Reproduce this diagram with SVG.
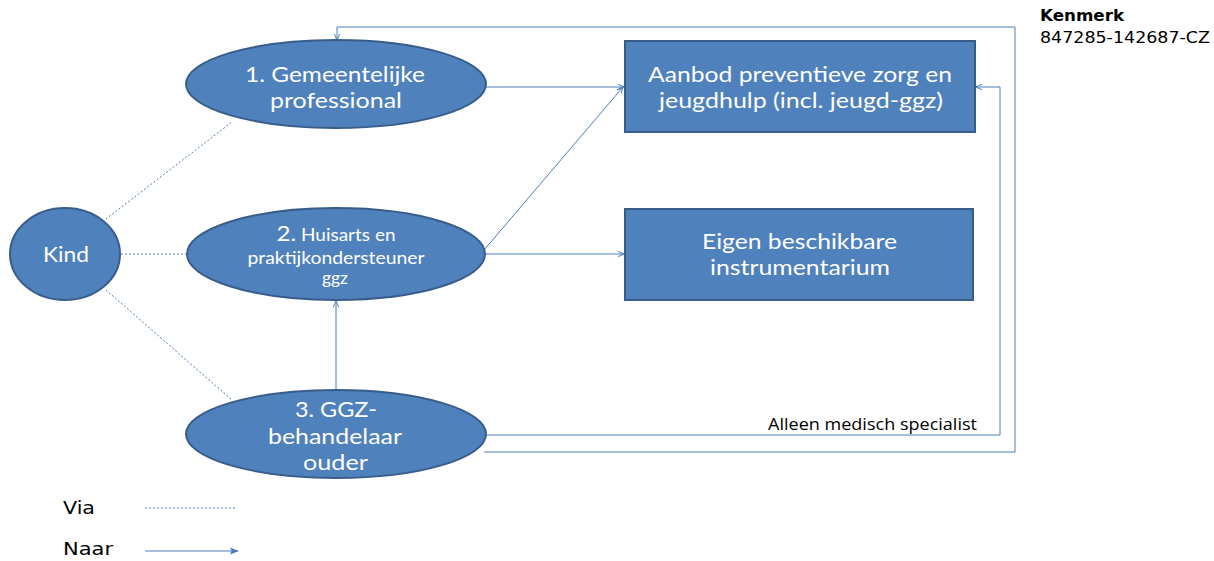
<svg xmlns="http://www.w3.org/2000/svg" width="1214" height="561" viewBox="0 0 1214 561">
<defs>
<marker id="ah" viewBox="0 0 10 10" refX="9" refY="5" markerWidth="7" markerHeight="7" orient="auto" markerUnits="userSpaceOnUse">
<path d="M0,1 L9,5 L0,9" fill="none" stroke="#4A7EBB" stroke-width="1.4"/>
</marker>
<marker id="ahf" viewBox="0 0 10 10" refX="9" refY="5" markerWidth="9" markerHeight="9" orient="auto" markerUnits="userSpaceOnUse">
<path d="M0,1 L10,5 L0,9 L2,5 Z" fill="#4A7EBB"/>
</marker>
</defs>
<style>
.node{fill:#4F81BD;stroke:#385D8A;stroke-width:2}
.t{font-family:Lato,"Open Sans","Liberation Sans",sans-serif;fill:#FFFFFF;text-anchor:middle}
.big{font-size:21px}
.sm{font-size:16.5px}
.ln{fill:none;stroke:#4A7EBB;stroke-width:1}
.dot{fill:none;stroke:#4A7EBB;stroke-width:1;stroke-dasharray:2,2}
.k{font-family:"DejaVu Sans",Verdana,sans-serif;font-size:15px;fill:#000}
.leg{font-family:"DejaVu Sans",Verdana,sans-serif;font-size:17.5px;fill:#000}
.lab{font-family:"Open Sans",Lato,"Liberation Sans",sans-serif;font-size:16.5px;fill:#000}
</style>
<rect width="1214" height="561" fill="#FFFFFF"/>
<g id="connectors">
<line class="dot" x1="106" y1="219" x2="232" y2="122"/>
<line class="dot" x1="121" y1="254" x2="187" y2="254"/>
<line class="dot" x1="106" y1="290" x2="232" y2="400"/>
<line class="ln" x1="486" y1="87" x2="624" y2="87" marker-end="url(#ah)"/>
<line class="ln" x1="484" y1="250" x2="623" y2="87" marker-end="url(#ah)"/>
<line class="ln" x1="486" y1="254" x2="624" y2="254" marker-end="url(#ah)"/>
<line class="ln" x1="336" y1="390" x2="336" y2="301" marker-end="url(#ah)"/>
<polyline class="ln" points="486,435 1000,435 1000,87 976,87" marker-end="url(#ah)"/>
<polyline class="ln" points="484,452 1015,452 1015,27 337,27 337,40" marker-end="url(#ah)"/>
<text class="lab" x="768" y="430" textLength="209" lengthAdjust="spacingAndGlyphs">Alleen medisch specialist</text>
</g>
<g id="kind">
<ellipse class="node" cx="65" cy="254" rx="55" ry="46"/>
<text class="t big" x="66" y="262" textLength="46" lengthAdjust="spacingAndGlyphs">Kind</text>
</g>
<g id="gemeentelijke">
<ellipse class="node" cx="336" cy="84" rx="150" ry="44"/>
<text class="t big" x="335" y="82" textLength="180" lengthAdjust="spacingAndGlyphs">1. Gemeentelijke</text>
<text class="t big" x="336" y="108" textLength="132" lengthAdjust="spacingAndGlyphs">professional</text>
</g>
<g id="huisarts">
<ellipse class="node" cx="336" cy="254" rx="149" ry="46"/>
<text class="t sm" x="336" y="241" textLength="119" lengthAdjust="spacingAndGlyphs"><tspan font-size="21">2.</tspan> Huisarts en</text>
<text class="t sm" x="336" y="264" textLength="177" lengthAdjust="spacingAndGlyphs">praktijkondersteuner</text>
<text class="t sm" x="335" y="284" textLength="26" lengthAdjust="spacingAndGlyphs">ggz</text>
</g>
<g id="ggz">
<ellipse class="node" cx="336" cy="434" rx="150" ry="44"/>
<text class="t big" x="336" y="417" textLength="82" lengthAdjust="spacingAndGlyphs">3. GGZ-</text>
<text class="t big" x="335" y="443.5" textLength="134" lengthAdjust="spacingAndGlyphs">behandelaar</text>
<text class="t big" x="335.5" y="470" textLength="65" lengthAdjust="spacingAndGlyphs">ouder</text>
</g>
<g id="aanbod">
<rect class="node" x="625" y="41" width="350" height="91"/>
<text class="t big" x="800" y="82" textLength="304" lengthAdjust="spacingAndGlyphs">Aanbod preventieve zorg en</text>
<text class="t big" x="801" y="108" textLength="284" lengthAdjust="spacingAndGlyphs">jeugdhulp (incl. jeugd-ggz)</text>
</g>
<g id="eigen">
<rect class="node" x="625" y="209" width="348" height="91"/>
<text class="t big" x="799.5" y="249" textLength="195" lengthAdjust="spacingAndGlyphs">Eigen beschikbare</text>
<text class="t big" x="800" y="275" textLength="180" lengthAdjust="spacingAndGlyphs">instrumentarium</text>
</g>
<g id="legend">
<text class="leg" x="63" y="514" textLength="32" lengthAdjust="spacingAndGlyphs">Via</text>
<line class="dot" x1="145" y1="508" x2="237" y2="508"/>
<text class="leg" x="63" y="555" textLength="50" lengthAdjust="spacingAndGlyphs">Naar</text>
<line class="ln" x1="145" y1="551" x2="238" y2="551" marker-end="url(#ahf)"/>
</g>
<g id="kenmerk">
<text class="k" x="1040" y="21" font-weight="bold" textLength="84" lengthAdjust="spacingAndGlyphs">Kenmerk</text>
<text class="k" x="1040" y="43" textLength="170" lengthAdjust="spacingAndGlyphs">847285-142687-CZ</text>
</g>
</svg>
